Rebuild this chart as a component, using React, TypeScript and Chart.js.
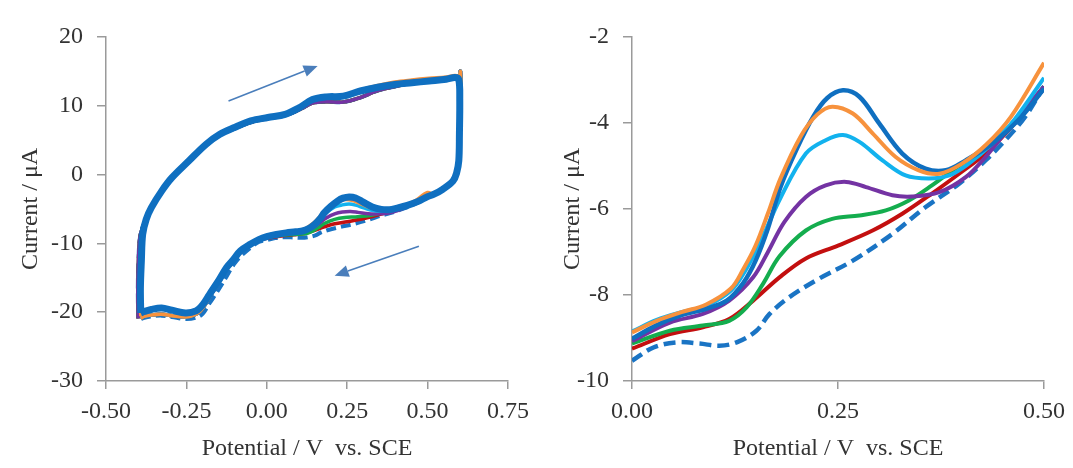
import { useEffect, useRef } from "react";
import { Chart, registerables } from "chart.js";
Chart.register(...registerables);

// ---------- Right panel: cathodic branch 0.00 – 0.50 V ----------
const blueV = [0, 0.03, 0.06, 0.09, 0.115, 0.135, 0.15, 0.165, 0.18, 0.2, 0.22, 0.237, 0.256, 0.276, 0.3, 0.328, 0.356, 0.381, 0.405, 0.437, 0.469, 0.5];
const blueI = [-9.02, -8.7, -8.47, -8.32, -8.13, -7.72, -7.2, -6.45, -5.5, -4.6, -3.85, -3.42, -3.24, -3.39, -4.01, -4.71, -5.06, -5.1, -4.87, -4.48, -3.93, -3.2];

const orangeV = [0, 0.03, 0.06, 0.09, 0.12, 0.135, 0.15, 0.165, 0.18, 0.205, 0.225, 0.243, 0.268, 0.292, 0.32, 0.348, 0.373, 0.4, 0.43, 0.46, 0.5];
const orangeI = [-8.87, -8.6, -8.4, -8.22, -7.85, -7.4, -6.85, -6.1, -5.3, -4.3, -3.8, -3.62, -3.78, -4.24, -4.79, -5.1, -5.18, -4.95, -4.5, -3.85, -2.6];

const cyanV = [0, 0.03, 0.06, 0.09, 0.12, 0.137, 0.155, 0.18, 0.211, 0.235, 0.256, 0.276, 0.304, 0.332, 0.36, 0.385, 0.409, 0.435, 0.465, 0.5];
const cyanI = [-8.85, -8.58, -8.4, -8.25, -7.9, -7.45, -6.8, -5.75, -4.71, -4.4, -4.28, -4.44, -4.87, -5.22, -5.29, -5.22, -4.94, -4.52, -3.9, -2.95];

const purpleV = [0, 0.046, 0.086, 0.118, 0.147, 0.165, 0.185, 0.211, 0.235, 0.26, 0.284, 0.316, 0.34, 0.373, 0.405, 0.429, 0.46, 0.5];
const purpleI = [-9.07, -8.64, -8.44, -8.13, -7.59, -7.0, -6.3, -5.72, -5.45, -5.37, -5.49, -5.68, -5.71, -5.61, -5.26, -4.79, -4.05, -3.15];

const greenV = [0, 0.046, 0.086, 0.118, 0.139, 0.159, 0.179, 0.211, 0.243, 0.276, 0.308, 0.336, 0.364, 0.389, 0.413, 0.44, 0.47, 0.5];
const greenI = [-9.13, -8.83, -8.71, -8.6, -8.29, -7.74, -7.1, -6.5, -6.23, -6.15, -6.03, -5.8, -5.45, -5.1, -4.79, -4.4, -3.85, -3.15];

const redV = [0, 0.046, 0.086, 0.118, 0.147, 0.179, 0.211, 0.25, 0.292, 0.328, 0.364, 0.397, 0.429, 0.46, 0.5];
const redI = [-9.25, -8.91, -8.75, -8.56, -8.13, -7.59, -7.15, -6.85, -6.5, -6.11, -5.64, -5.18, -4.71, -4.1, -3.2];

const dashV = [0, 0.026, 0.054, 0.082, 0.106, 0.127, 0.151, 0.167, 0.191, 0.227, 0.268, 0.316, 0.356, 0.397, 0.429, 0.453, 0.477, 0.5];
const dashI = [-9.53, -9.22, -9.1, -9.13, -9.18, -9.1, -8.83, -8.44, -8.05, -7.62, -7.2, -6.58, -5.96, -5.41, -4.87, -4.4, -3.86, -3.15];

// ---------- Left panel: full CV loop pieces ----------
const upperMainV = [-0.392, -0.393, -0.39, -0.386, -0.375, -0.359, -0.327, -0.295, -0.242, -0.189, -0.146, -0.103, -0.05, 0.003, 0.057, 0.1, 0.142, 0.185, 0.238, 0.291, 0.345, 0.398, 0.451, 0.505, 0.558, 0.585];
const upperMainI = [-20.1, -16.5, -12.5, -8.7, -6.5, -4.8, -2.4, -0.45, 2.0, 4.4, 5.85, 6.8, 7.8, 8.3, 8.75, 9.7, 10.9, 11.3, 11.4, 12.15, 12.7, 13.1, 13.35, 13.6, 13.85, 14.1];
const upperOrangeI = [-20.6, -16.5, -12.5, -8.9, -6.7, -5.0, -2.6, -0.6, 1.85, 4.25, 5.7, 6.65, 7.65, 8.2, 8.65, 9.6, 10.8, 11.2, 11.45, 12.3, 12.95, 13.45, 13.75, 14.0, 14.2, 14.4];
const upperDipV = [-0.4, -0.401, -0.399, -0.394, -0.38, -0.362, -0.33, -0.297, -0.244, -0.19, -0.147, -0.104, -0.05, 0.003, 0.057, 0.1, 0.142, 0.185, 0.238, 0.291, 0.345, 0.398, 0.451, 0.505, 0.558, 0.585];
const upperDipI = [-20.9, -16.5, -12.5, -9.0, -6.9, -5.1, -2.7, -0.7, 1.8, 4.2, 5.7, 6.6, 7.6, 8.15, 8.6, 9.4, 10.4, 10.6, 10.55, 11.2, 12.2, 12.8, 13.3, 13.55, 13.8, 14.1];

const cornerMainV = [0.597, 0.6, 0.599, 0.597, 0.59, 0.579, 0.547, 0.52];
const cornerMainI = [13.8, 11, 6, 2.0, 0.2, -0.93, -2.14, -2.85];
const cornerOtherV = [0.598, 0.602, 0.603, 0.601, 0.596, 0.588, 0.576, 0.545, 0.52];
const cornerOtherI = [14.4, 15.0, 11, 5.5, 2.0, 0.0, -1.1, -2.3, -2.9];

const lowerLeftV = [-0.025, -0.05, -0.082, -0.103, -0.125, -0.151, -0.178, -0.199, -0.22, -0.253, -0.295, -0.327, -0.359, -0.381, -0.392];
const lowerMainI = [-9.45, -10.1, -11.1, -12.3, -13.5, -15.5, -17.4, -18.9, -19.8, -20.1, -19.7, -19.4, -19.6, -19.9, -20.1];
const lowerOtherI = [-9.55, -10.25, -11.3, -12.5, -13.8, -15.8, -17.8, -19.4, -20.3, -20.7, -20.5, -20.3, -20.4, -20.6, -20.9];
const lowerDashI = [-9.8, -10.6, -11.9, -13.1, -14.8, -16.8, -18.7, -20.2, -20.8, -21.0, -20.7, -20.5, -20.6, -20.8, -21.0];

// arrows (data coordinates of the left panel)
const arrowFromV = [-0.119, 0.473];
const arrowFromI = [10.7, -10.4];
const arrowToV = [0.158, 0.211];
const arrowToI = [15.8, -14.7];

const xTicksLeft = [-0.5, -0.25, 0, 0.25, 0.5, 0.75];
const xTicksRight = [0, 0.25, 0.5];

const C_BLUE = "#0f6fc0";
const C_DASH = "#1a74c4";
const C_ORANGE = "#f7923d";
const C_CYAN = "#12b2ee";
const C_PURPLE = "#7433a3";
const C_GREEN = "#14ad4e";
const C_RED = "#c30f0f";

const FONT = "'Liberation Serif', 'Times New Roman', serif";
const TXT = "#333333";
const AX = "#9a9a9a";

const pts = (v: number[], i: number[]) => v.map((x, k) => ({ x, y: i[k] }));
const rev = <T,>(a: T[]) => a.slice().reverse();

function loop(upV: number[], upI: number[], cV: number[], cI: number[], rV: number[], rI: number[], lI: number[]) {
  return [...pts(upV, upI), ...pts(cV, cI), ...rev(pts(rV, rI)), ...pts(lowerLeftV, lI)];
}

const arrowPlugin = {
  id: "arrows",
  afterDatasetsDraw(chart: any) {
    const { ctx, scales } = chart;
    const x = scales.x, y = scales.y;
    ctx.save();
    ctx.strokeStyle = "#4a7ebb";
    ctx.fillStyle = "#4a7ebb";
    ctx.lineWidth = 1.6;
    for (let k = 0; k < arrowFromV.length; k++) {
      const x0 = x.getPixelForValue(arrowFromV[k]);
      const y0 = y.getPixelForValue(arrowFromI[k]);
      const x1 = x.getPixelForValue(arrowToV[k]);
      const y1 = y.getPixelForValue(arrowToI[k]);
      const ang = Math.atan2(y1 - y0, x1 - x0);
      const hl = 14, hw = 6;
      const bx = x1 - hl * Math.cos(ang), by = y1 - hl * Math.sin(ang);
      ctx.beginPath();
      ctx.moveTo(x0, y0);
      ctx.lineTo(bx, by);
      ctx.stroke();
      ctx.beginPath();
      ctx.moveTo(x1, y1);
      ctx.lineTo(bx + hw * Math.sin(ang), by - hw * Math.cos(ang));
      ctx.lineTo(bx - hw * Math.sin(ang), by + hw * Math.cos(ang));
      ctx.closePath();
      ctx.fill();
    }
    ctx.restore();
  },
};

function axisX(min: number, max: number, ticks: number[]) {
  return {
    type: "linear",
    min, max,
    afterBuildTicks: (s: any) => { s.ticks = ticks.map((v) => ({ value: v })); },
    afterFit: (s: any) => { s.height = 87; },
    grid: { display: true, drawOnChartArea: false, drawTicks: true, tickLength: 8, color: AX, lineWidth: 1.5 },
    border: { display: true, color: AX, width: 1.5 },
    ticks: { color: TXT, font: { family: FONT, size: 24 }, padding: 8, maxRotation: 0, autoSkip: false, callback: (v: any) => Number(v).toFixed(2) },
    title: { display: true, text: "Potential / V  vs. SCE", color: TXT, font: { family: FONT, size: 24 }, padding: { top: 0, bottom: 5 } },
  };
}

function axisY(min: number, max: number, step: number, width: number, tpad: number) {
  return {
    type: "linear",
    min, max,
    afterFit: (s: any) => { s.width = width; },
    grid: { display: true, drawOnChartArea: false, drawTicks: true, tickLength: 9, color: AX, lineWidth: 1.5 },
    border: { display: true, color: AX, width: 1.5 },
    ticks: { color: TXT, font: { family: FONT, size: 24 }, padding: 14, stepSize: step, callback: (v: any) => String(v) },
    title: { display: true, text: "Current / μA", color: TXT, font: { family: FONT, size: 24 }, padding: { top: tpad, bottom: 0 } },
  };
}

const line = (data: any[], color: string, width: number, dash: number[] = []) => ({
  data, borderColor: color, backgroundColor: color, borderWidth: width, borderDash: dash,
  showLine: true, pointRadius: 0, tension: 0.35, fill: false,
});

export default function App() {
  const leftRef = useRef<HTMLCanvasElement>(null);
  const rightRef = useRef<HTMLCanvasElement>(null);

  useEffect(() => {
    // Chart.js paints the first dataset on top, so the list runs top → bottom
    const left = new Chart(leftRef.current!, {
      type: "scatter",
      data: {
        datasets: [
          line(loop(upperMainV, upperMainI, cornerMainV, cornerMainI, blueV, blueI, lowerMainI), C_BLUE, 7),
          line(loop(upperMainV, upperOrangeI, cornerOtherV, cornerOtherI, orangeV, orangeI, lowerOtherI), C_ORANGE, 3.5),
          line(loop(upperMainV, upperMainI, cornerOtherV, cornerOtherI, cyanV, cyanI, lowerOtherI), C_CYAN, 3.5),
          line(loop(upperDipV, upperDipI, cornerOtherV, cornerOtherI, purpleV, purpleI, lowerOtherI), C_PURPLE, 3.5),
          line(loop(upperDipV, upperDipI, cornerOtherV, cornerOtherI, greenV, greenI, lowerOtherI), C_GREEN, 3.5),
          line(loop(upperDipV, upperDipI, cornerOtherV, cornerOtherI, redV, redI, lowerOtherI), C_RED, 3.5),
          line(loop(upperDipV, upperDipI, cornerOtherV, cornerOtherI, dashV, dashI, lowerDashI), C_DASH, 4, [10, 5]),
        ],
      },
      options: {
        responsive: false,
        animation: false,
        layout: { padding: { left: 0, right: 32, top: 37, bottom: 0 } },
        plugins: { legend: { display: false }, tooltip: { enabled: false } },
        scales: { x: axisX(-0.5, 0.75, xTicksLeft), y: axisY(-30, 20, 10, 106, 16) } as any,
      },
      plugins: [arrowPlugin],
    });

    const right = new Chart(rightRef.current!, {
      type: "scatter",
      data: {
        datasets: [
          line(pts(orangeV, orangeI), C_ORANGE, 4),
          line(pts(blueV, blueI), C_BLUE, 4.5),
          line(pts(cyanV, cyanI), C_CYAN, 4),
          line(pts(purpleV, purpleI), C_PURPLE, 4),
          line(pts(greenV, greenI), C_GREEN, 4),
          line(pts(redV, redI), C_RED, 4),
          line(pts(dashV, dashI), C_DASH, 4.5, [12, 6]),
        ],
      },
      options: {
        responsive: false,
        animation: false,
        layout: { padding: { left: 0, right: 28, top: 37, bottom: 0 } },
        plugins: { legend: { display: false }, tooltip: { enabled: false } },
        scales: { x: axisX(0, 0.5, xTicksRight), y: axisY(-10, -2, 2, 92, 18) } as any,
      },
    });

    return () => { left.destroy(); right.destroy(); };
  }, []);

  return (
    <div style={{ position: "absolute", left: 0, top: 0, width: 1073, height: 468, background: "#fff", overflow: "hidden" }}>
      <canvas ref={leftRef} width={540} height={468} style={{ position: "absolute", left: 0, top: 0 }} />
      <canvas ref={rightRef} width={533} height={468} style={{ position: "absolute", left: 540, top: 0 }} />
    </div>
  );
}
